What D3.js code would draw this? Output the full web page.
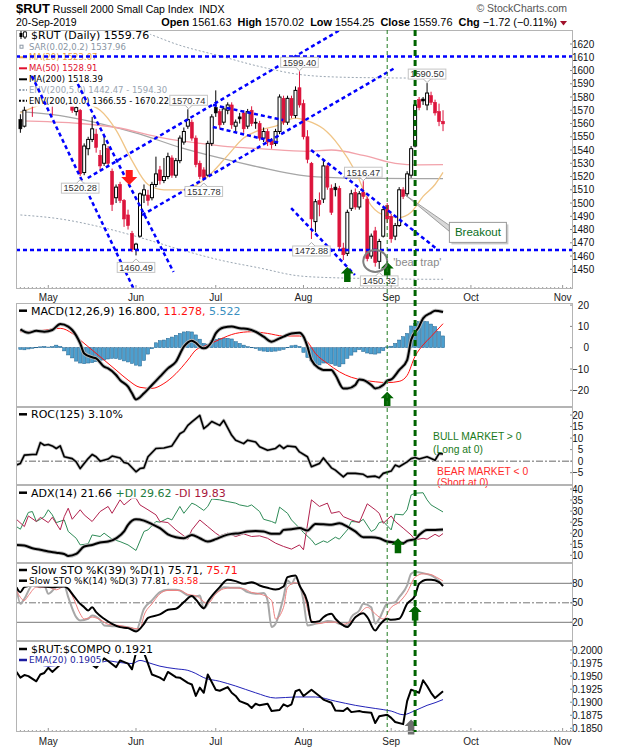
<!DOCTYPE html>
<html>
<head>
<meta charset="utf-8">
<script src="https://cdn.jsdelivr.net/npm/d3@7"></script>
<style>
html,body{margin:0;padding:0;background:#fff;}
svg{display:block;}
text{white-space:pre;}
</style>
</head>
<body>
<svg id="chart" width="620" height="750"></svg>
<script>
// ================= DATA =================
const holidays = ['2019-05-27','2019-07-04','2019-09-02'];

const opens = [1563,1558,1578,1580,1577,1588,1589,1592,1580,1585,
1582,1583,1578,1575,1569,1570,1523,1541,1548,1552,
1536,1530,1541,1524,1504,1514,1502,1491,1477,1465,
1475,1506,1506,1504,1514,1525,1517,1520,1534,1521,
1532,1546,1558,1561,1549,1530,1525,1521,1545,1572,
1569,1561,1570,1574,1558,1565,1568,1558,1570,1561,
1560,1549,1554,1547,1545,1554,1579,1561,1579,1566,
1587,1575,1550,1530,1486,1502,1503,1528,1511,1512,
1511,1466,1462,1496,1508,1497,1508,1503,1460,1479,
1456,1475,1498,1490,1475,1483,1510,1507,1521,1543,
1578,1578.5,1574,1581,1576,1569,1561.63];
const highs = [1567,1575,1586,1582,1590,1594,1593,1596,1585,1604,
1590,1586,1582,1577,1574,1571,1545,1550,1565,1556,
1540,1551,1543,1526,1514,1516,1503,1495,1479,1470,
1508,1514,1510,1516,1535,1528,1534,1538,1536,1534,
1551,1557,1570.74,1563,1551,1532,1527,1547,1567,1585,
1571,1573,1576,1576,1563,1568,1570,1571,1573,1564,
1562,1557,1556,1549,1556,1582,1581,1581,1581,1588,
1599.40,1578,1555,1531,1503,1508,1533,1530,1514,1515,
1513,1470,1495,1510,1511,1509,1516.47,1505,1477,1482,
1473,1497,1500,1492,1485,1512,1512,1524,1543,1575,
1580,1580,1590.50,1584,1578,1575,1570.02];
const lows = [1553,1557,1575,1565,1576,1584,1580,1578,1566,1584,
1578,1576,1575,1568,1566,1520.28,1521,1536,1546,1538,
1524,1528,1527,1494,1500,1500,1482,1480,1463,1460.49,
1474,1500,1498,1502,1512,1514,1515,1518,1519,1519,
1530,1544,1556,1547,1527,1518,1517.78,1520,1543,1565,
1556,1559,1567,1556,1553,1560,1553,1556,1558,1556,
1547,1546,1543,1541,1543,1552,1559,1559,1564,1564,
1572,1548,1530,1472.88,1478,1490,1500,1510,1491,1505,
1465,1457,1460,1494,1495,1495,1503,1456,1458,1452,
1450.32,1474,1485,1470,1472,1482,1503,1505,1519,1542,
1570,1574,1570,1574,1566,1558,1554.25];
const closes = [1556,1570,1582,1576,1588,1591,1591,1580,1577,1600,
1589,1578,1576,1570,1572,1522,1543,1548,1556,1542,
1528,1544,1530,1499,1512,1502,1488,1483,1465,1469,
1507,1510,1502,1514,1522,1517,1520,1535,1521,1532,
1549,1554,1563,1549,1529,1520,1519,1545,1565,1568,
1559,1571,1574,1559,1561,1563.5,1556,1569,1560,1560.5,
1549,1554,1546,1544,1554,1580,1561,1579,1566,1585,
1574,1550,1533,1488,1501,1499,1528,1512,1493,1510,
1467,1461,1493,1507,1497,1507,1505,1458,1475,1455,
1471,1495,1488,1473,1483,1510,1505,1522,1541,1574,
1572,1577,1583,1576,1568,1561.48,1559.76];

// overlays: [bar index, value]
const ma20Pts = [[0,1568],[5,1574],[10,1578],[15,1576],[20,1570],[24,1555],[28,1532],[32,1514],[36,1510],[41,1510],[47,1520],[52,1536],[56,1549],[60,1555],[64,1558],[69,1564],[72,1562],[76,1556],[80,1543],[84,1524],[88,1498],[92,1490],[95,1489],[98,1493],[101,1505],[104,1514],[106,1523.07]];
const ma50Pts = [[0,1562],[15,1560],[24,1557],[36,1549],[45,1545],[52,1542.5],[60,1541],[72,1539],[78,1540],[86,1536],[94,1530],[100,1528.8],[106,1528.91]];
const ma200Pts = [[0,1569],[10,1566],[20,1560],[30,1552],[40,1542],[50,1534],[60,1527],[70,1521],[80,1519],[90,1518.6],[100,1518.4],[106,1518.39]];
const envUpperPts = [[0,1647],[10,1644],[20,1638],[30,1630],[40,1619],[50,1611],[60,1603],[70,1597],[80,1595],[90,1594.5],[100,1594.3],[106,1594.30]];
const envLowerPts = [[0,1491],[10,1488],[20,1482],[30,1474],[40,1465],[50,1457],[60,1451],[70,1445],[80,1443.5],[90,1443],[100,1442.5],[106,1442.47]];

const macdPts = [[0,8.6],[2,7.0],[4,7.9],[6,7.5],[8,8.3],[10,11.1],[12,9.9],[13,8.3],[15,2.0],[16,-2.7],[18,-4.5],[19,-5.0],[21,-8.9],[22,-9.7],[24,-12.8],[25,-15.2],[27,-18.3],[28,-21.4],[29,-24.3],[31,-21.4],[33,-17.5],[35,-13.6],[37,-9.7],[39,-6.6],[41,0.5],[43,3.3],[44,2.3],[45,0.5],[46,-0.3],[48,2.8],[49,6.7],[51,9.5],[53,9.9],[55,9.1],[57,8.8],[59,7.5],[61,5.2],[63,2.8],[65,4.4],[66,5.2],[68,6.7],[70,7.0],[71,5.2],[72,0.5],[73,-5.8],[75,-9.7],[76,-10.5],[78,-10.5],[79,-12.8],[81,-19.1],[82,-19.1],[84,-17.5],[85,-14.9],[86,-15.2],[88,-17.5],[89,-19.1],[91,-17.5],[92,-15.5],[93,-14.9],[95,-10.5],[97,-5.8],[98,3.6],[100,9.9],[101,13.8],[103,16.4],[104,17.4],[106,16.8]];
const signalPts = [[0,7.5],[5,8.0],[10,9.1],[13,6.7],[15,3.6],[18,-1.1],[21,-5.8],[24,-10.5],[27,-15.2],[30,-18.6],[33,-19.1],[36,-16.8],[39,-12.2],[42,-5.8],[44,-1.1],[47,1.3],[50,3.9],[54,6.7],[58,7.5],[62,6.7],[66,5.5],[70,5.5],[72,2.8],[74,-2.7],[77,-7.4],[80,-11.3],[83,-13.9],[86,-15.2],[89,-16.0],[92,-16.4],[95,-15.8],[97,-13.0],[99,-4.0],[101,1.3],[103,5.2],[106,11.278]];
const histVals = [-0.8,-1.0,-0.6,-0.3,0.2,0.4,0.6,0.3,0.5,1.2,
0.6,-1.5,-3.4,-4.8,-6.3,-7.2,-7.5,-7.2,-7.0,-6.6,
-6.1,-5.8,-5.3,-5.0,-5.1,-5.5,-6.2,-6.7,-7.4,-8.2,
-8.6,-6.0,-3.0,-0.5,2.3,3.3,3.6,4.4,5.0,5.8,
6.7,7.4,7.5,7.4,6.0,4.0,2.0,1.7,3.5,3.9,
4.4,4.5,4.4,4.1,2.8,2.0,1.2,0.5,0.2,-0.4,
-1.2,-1.6,-1.9,-1.8,-1.6,-1.2,-0.8,0.2,0.9,1.2,
0.6,-2.2,-4.6,-6.2,-7.7,-8.1,-7.2,-7.2,-7.6,-8.3,
-8.9,-7.6,-5.0,-3.5,-2.0,-0.9,-1.8,-2.5,-2.9,-3.0,
-2.5,-1.4,0.4,0.7,2.0,3.6,5.2,6.7,10.2,11.4,
12.2,12.5,12.2,11.1,9.9,7.5,5.522];

const rocPts = [[-1,-1.7],[0,-1.0],[1,2.6],[3,2.9],[4,2.9],[5,8.0],[6,6.9],[7,7.2],[8,6.6],[9,5.5],[10,6.6],[11,1.9],[13,1.1],[14,-0.3],[15,-3.2],[17,1.1],[18,2.9],[19,1.9],[20,0],[22,0.9],[23,2.2],[25,1.4],[26,-0.6],[27,-1.0],[29,-4.6],[30,-3.2],[31,-2.9],[32,1.9],[34,5.5],[36,5.7],[38,6.6],[40,11.9],[41,12.9],[42,15.5],[43,17.0],[45,19.8],[46,14.1],[47,15.5],[48,17.2],[50,15.5],[51,17.7],[53,11.2],[54,9.1],[56,7.6],[57,9.1],[59,8.3],[60,6.2],[62,4.7],[64,5.5],[65,6.9],[66,5.5],[67,6.6],[69,6.2],[70,4.0],[72,1.9],[73,-2.4],[75,-1.0],[76,1.4],[78,-2.9],[79,-3.9],[81,-6.8],[82,-5.3],[84,-5.3],[86,-5.7],[87,-6.8],[89,-6.5],[90,-7.2],[91,-5.3],[93,-4.3],[94,-1.7],[95,-2.4],[97,-0.3],[98,1.1],[99,1.6],[100,0.9],[102,1.9],[104,0.4],[105,3.3],[106,3.10]];

const adxPts = [[-1,14.7],[1,14.4],[3,13.2],[5,12.5],[7,11.7],[9,11.2],[11,10.6],[12,9.7],[14,10.6],[16,14.0],[18,14.7],[20,15.8],[22,16.2],[24,17.7],[26,20.8],[27,23.8],[29,26.3],[31,25.7],[33,24.1],[35,22.3],[37,19.5],[39,18.2],[41,17.7],[43,19.2],[45,17.7],[47,16.2],[49,17.3],[51,18.8],[53,19.7],[55,20.0],[57,20.8],[59,21.0],[61,20.8],[63,19.7],[65,19.7],[66,21.5],[68,21.8],[70,22.3],[72,21.2],[74,24.2],[76,24.0],[78,23.8],[80,24.5],[82,23.0],[84,20.8],[86,18.2],[88,18.2],[90,17.7],[92,16.2],[94,15.8],[96,15.5],[97,16.5],[99,17.3],[100,19.2],[102,21.5],[104,21.5],[106,21.66]];
const plusDiPts = [[-1,23.0],[0,21.8],[2,29.4],[3,29.8],[4,25.3],[5,26.3],[6,27.5],[7,30.6],[8,28.3],[9,24.8],[11,26.0],[12,20.8],[14,17.7],[15,14.7],[17,15.2],[18,19.2],[20,18.5],[21,20.0],[23,17.3],[25,16.2],[27,14.7],[29,12.2],[31,20.8],[32,21.5],[34,25.3],[35,25.0],[37,26.8],[38,26.0],[40,32.1],[41,29.0],[43,33.6],[44,32.8],[46,30.3],[47,32.1],[48,35.5],[50,35.1],[52,34.3],[54,33.6],[55,32.8],[57,32.1],[58,32.8],[60,29.8],[61,26.3],[63,25.3],[64,24.5],[65,31.8],[67,29.0],[68,26.0],[70,22.3],[71,20.3],[73,17.0],[74,14.7],[76,16.5],[77,15.8],[79,18.2],[80,17.3],[82,21.5],[83,25.3],[85,25.0],[86,26.3],[88,20.8],[89,21.8],[90,24.8],[91,25.3],[93,21.5],[94,28.6],[96,28.3],[97,30.6],[98,37.3],[99,38.1],[101,38.3],[102,35.1],[103,32.8],[106,29.62]];
const minusDiPts = [[-1,26.3],[1,23.0],[2,27.8],[4,25.3],[5,27.2],[7,24.8],[8,27.2],[10,21.5],[11,27.5],[12,31.3],[13,26.3],[15,30.6],[16,28.3],[18,25.3],[20,29.8],[22,32.1],[23,29.0],[25,35.1],[26,32.8],[28,35.8],[29,35.8],[30,32.8],[32,30.6],[34,28.3],[35,25.3],[37,24.8],[39,21.5],[41,18.8],[42,17.3],[43,21.5],[45,26.0],[47,23.0],[49,20.0],[50,18.8],[52,20.0],[54,18.5],[56,19.7],[58,18.5],[60,18.8],[62,17.7],[64,15.5],[66,14.0],[68,12.8],[70,14.7],[71,12.5],[73,35.1],[75,32.1],[77,33.6],[78,29.0],[80,29.8],[81,27.5],[83,26.0],[85,24.8],[87,33.3],[89,30.6],[90,29.0],[91,24.5],[93,27.8],[94,25.3],[96,22.3],[98,19.2],[99,17.0],[101,17.7],[102,17.3],[104,19.5],[105,18.5],[106,19.83]];

const sto39Pts = [[-1,74.1],[0,66.4],[1,74.1],[3,76.7],[5,75.5],[8,74.1],[11,75.0],[12,71.5],[13,63.8],[15,48.5],[16,43.3],[17,38.2],[18,43.3],[19,35.6],[21,25.4],[23,17.7],[25,12.6],[27,11.0],[29,5.9],[31,17.7],[32,26.9],[35,32.1],[37,39.2],[39,40.8],[41,51.0],[43,60.3],[44,55.0],[46,41.8],[47,52.0],[50,74.1],[52,85.4],[54,83.3],[56,79.2],[58,81.8],[60,76.7],[62,73.1],[64,70.5],[66,75.1],[67,89.5],[69,92.1],[70,76.7],[72,51.0],[73,20.3],[75,21.8],[76,27.9],[78,33.1],[79,25.4],[81,15.1],[82,12.6],[84,27.9],[86,34.1],[87,27.9],[89,7.4],[90,15.1],[92,25.4],[93,23.8],[95,25.4],[97,48.5],[99,61.3],[100,79.2],[102,85.4],[103,85.4],[105,81.8],[106,75.71]];
const sto14KPts = [[-1,74.1],[0,48.5],[1,56.2],[3,76.7],[5,74.1],[6,76.7],[7,63.8],[9,74.1],[11,76.7],[12,58.7],[14,28.0],[15,22.8],[17,25.4],[18,30.5],[20,23.8],[21,15.1],[23,14.1],[25,13.6],[28,11.0],[29,7.4],[31,40.8],[33,53.6],[35,66.4],[37,70.0],[39,70.0],[40,69.0],[42,61.3],[44,59.7],[45,61.3],[46,40.8],[48,58.7],[50,70.0],[51,74.1],[53,73.1],[55,73.1],[57,66.4],[59,63.8],[61,64.9],[62,53.6],[63,12.6],[64,17.7],[66,58.7],[67,84.4],[68,79.2],[69,88.5],[71,53.6],[72,15.1],[74,17.7],[76,20.3],[77,22.0],[79,20.3],[80,17.7],[82,15.1],[83,27.9],[85,38.2],[86,48.5],[88,43.3],[89,17.7],[90,25.4],[92,48.5],[94,51.0],[95,58.7],[97,76.7],[98,94.6],[99,97.2],[101,95.6],[103,92.1],[104,88.5],[106,77.81]];
const sto14DPts = [[-1,69],[1,53.6],[2,61],[4,74],[7,74],[9,70],[11,75],[13,61],[15,33],[16,25],[18,28],[20,24],[22,17],[25,15],[28,11],[30,10],[31,30.5],[33,48.5],[35,63.8],[37,69],[40,69],[42,63],[44,61],[47,49],[49,63.8],[51,71.5],[53,73],[56,71.5],[58,66],[60,63.8],[63,53.6],[64,25],[66,43],[67,74],[69,81],[71,63.8],[73,23],[75,18],[77,20.3],[79,20.3],[81,17],[83,22],[85,33],[87,43],[89,33],[91,25],[93,43],[95,51],[97,66],[99,89.5],[101,94.6],[103,93.5],[104,90.5],[106,83.58]];

const ratioPts = [[-1,0.1958],[0,0.1947],[1,0.1952],[2,0.1950],[4,0.1940],[5,0.1953],[6,0.1956],[7,0.1966],[8,0.1958],[10,0.1972],[11,0.1976],[13,0.1978],[15,0.1977],[18,0.1972],[19,0.1966],[21,0.1984],[22,0.1979],[24,0.1967],[25,0.1980],[27,0.1974],[28,0.1963],[29,0.1995],[30,0.2005],[31,0.1995],[33,0.1953],[35,0.1947],[36,0.1942],[37,0.1958],[39,0.1948],[40,0.1947],[42,0.1937],[43,0.1934],[44,0.1912],[45,0.1928],[46,0.1918],[47,0.1953],[49,0.1924],[50,0.1922],[52,0.1929],[53,0.1918],[54,0.1912],[55,0.1902],[57,0.1896],[58,0.1889],[59,0.1897],[60,0.1894],[62,0.1897],[63,0.1883],[65,0.1885],[66,0.1896],[67,0.1892],[68,0.1896],[69,0.1921],[70,0.1924],[71,0.1912],[73,0.1924],[75,0.1912],[76,0.1905],[78,0.1899],[79,0.1884],[81,0.1883],[82,0.1889],[83,0.1881],[85,0.1883],[86,0.1881],[88,0.1880],[89,0.1860],[90,0.1873],[92,0.1876],[93,0.1870],[94,0.1862],[96,0.1858],[97,0.1902],[98,0.1924],[100,0.1918],[101,0.1942],[102,0.1931],[103,0.1918],[104,0.1908],[106,0.1921]];
const emaPts = [[4,0.1972],[5,0.1971],[7,0.1969],[10,0.1971],[12,0.1972],[16,0.1974],[20,0.1976],[22,0.1979],[25,0.1976],[28,0.1974],[30,0.1980],[32,0.1976],[35,0.1969],[39,0.1964],[42,0.1961],[44,0.1955],[46,0.1947],[50,0.1940],[54,0.1931],[59,0.1918],[64,0.1908],[69,0.1910],[74,0.1910],[79,0.1902],[84,0.1894],[89,0.1888],[93,0.1883],[96,0.1876],[99,0.1884],[102,0.1894],[104,0.1899],[106,0.1905]];

// tick values
const mainTicks = d3.range(1450, 1621, 10);
const macdTicks = [20,10,0,-10,-20];
const rocTicks = [20,15,10,5,0,-5];
const adxTicks = [40,35,30,25,20,15,10];
const stoTicks = [80,50,20];
const ratioTicks = [0.2000,0.1975,0.1950,0.1925,0.1900,0.1875,0.1850];

// annotations (bar index, price)
const trendLines = [
  [[2.9,1595.9],[28.3,1436]],
  [[14.4,1589.8],[38.4,1448]],
  [[16.9,1518.9],[80.2,1630.6]],
  [[30.5,1490.9],[93.9,1601.9]],
  [[48.3,1574.0],[65.9,1562.6]],
  [[48.3,1557.4],[65.1,1545.3]],
  [[72.9,1540.0],[104.5,1465.3]],
  [[67.9,1496.2],[83.9,1445.7]]
];
const levelLines = [1610.5, 1464.5];
const priceLabels = [
  {i:70,v:1599.40,pos:'above'},{i:42.2,v:1570.74,pos:'above'},{i:15,v:1520.28,pos:'below'},
  {i:29,v:1460.49,pos:'below'},{i:46,v:1517.78,pos:'below'},{i:86,v:1516.47,pos:'above'},
  {i:73,v:1472.88,pos:'below'},{i:90,v:1450.32,pos:'below'},{i:102,v:1590.50,pos:'above'}
];
const markerThin = 92, markerThick = 99;

// ================= LAYOUT =================
const AX = "'Liberation Sans', Arial, sans-serif";
const LG = "'DejaVu Sans', Verdana, sans-serif";
const RED = '#dc143c';
const L = 16, R = 573;
const svg = d3.select('#chart');
svg.append('rect').attr('width',620).attr('height',750).attr('fill','#fff');
const defs = svg.append('defs');

const fmtISO = d3.timeFormat('%Y-%m-%d');
const days = d3.timeDay.range(new Date(2019,3,22), new Date(2019,10,9))
  .filter(d => d.getDay()!==0 && d.getDay()!==6 && !holidays.includes(fmtISO(d)));

const x = d3.scaleLinear().domain([-1.1, 138.6]).range([L, R]);

const P = {
  main:{top:30,bottom:289}, macd:{top:303,bottom:407}, roc:{top:407,bottom:485},
  adx:{top:485,bottom:563}, sto:{top:563,bottom:641}, ratio:{top:641,bottom:732}
};
Object.entries(P).forEach(([k,p]) => {
  defs.append('clipPath').attr('id','clip-'+k).append('rect')
    .attr('x',L).attr('y',p.top).attr('width',R-L).attr('height',p.bottom-p.top);
});

const yMain = d3.scaleLinear().domain([1450,1620]).range([269.3,44]);
const yMacd = d3.scaleLinear().domain([-20,20]).range([390.3,305.1]);
const yRoc = d3.scaleLinear().domain([-5,20]).range([472.7,415]);
const yAdx = d3.scaleLinear().domain([10,40]).range([555.3,489]);
const ySto = d3.scaleLinear().domain([20,80]).range([622.3,583.3]);
const yRatio = d3.scaleLinear().domain([0.185,0.200]).range([728.3,650]);

function lineGen(ys, curve){ return d3.line().x(d=>x(d[0])).y(d=>ys(d[1])).curve(curve||d3.curveLinear); }
function drawLine(g, pts, ys, color, w, curve, dash, op){
  const p = g.append('path').datum(pts).attr('fill','none').attr('stroke',color)
    .attr('stroke-width',w).attr('stroke-linejoin','round').attr('d', lineGen(ys,curve)(pts));
  if(dash) p.attr('stroke-dasharray',dash);
  if(op!=null) p.attr('stroke-opacity',op);
  return p;
}
function clipG(k){ return svg.append('g').attr('clip-path','url(#clip-'+k+')'); }

function legendRow(yc, parts, size, icon){
  const g = svg.append('g');
  const bg = g.append('rect').attr('fill','#fff');
  const tx = size >= 10 ? 31 : 29;
  const t = g.append('text').attr('x',tx).attr('y', yc + size*0.36)
    .attr('font-family',LG).attr('font-size',size);
  parts.forEach(p => t.append('tspan').attr('fill',p[1]).text(p[0]));
  const bb = t.node().getBBox();
  bg.attr('x',17).attr('y',yc-6).attr('width', bb.x+bb.width-17+1).attr('height',12);
  if(icon) icon(g, yc);
  return g;
}
const iconLine = (color,w,dash) => (g,yc) => {
  const l = g.append('line').attr('x1',19).attr('x2',27).attr('y1',yc).attr('y2',yc)
    .attr('stroke',color).attr('stroke-width',w);
  if(dash) l.attr('stroke-dasharray',dash);
};

function yAxis(ys, ticks, fmt){
  const g = svg.append('g').attr('font-family',AX).attr('font-size',10).attr('fill','#111');
  const texts = [];
  ticks.forEach(v => {
    g.append('line').attr('x1',R-3).attr('x2',R).attr('y1',ys(v)).attr('y2',ys(v)).attr('stroke','#888');
    texts.push(g.append('text').attr('y', ys(v)+3.5).text(fmt(v)));
  });
  const maxW = d3.max(texts, t => t.node().getComputedTextLength());
  texts.forEach(t => t.attr('x', R-1+maxW).attr('text-anchor','end'));
}

function frame(p){
  svg.append('rect').attr('x',L+0.5).attr('y',p.top+0.5).attr('width',R-L-1).attr('height',p.bottom-p.top-1)
    .attr('fill','none').attr('stroke','#b4b4b4');
}

function upArrow(g, cx, tipY, color){
  const w=13, hh=6.5, sw=6.5, len=15;
  g.append('path').attr('fill',color)
    .attr('d',`M${cx},${tipY} L${cx+w/2},${tipY+hh} L${cx+sw/2},${tipY+hh} L${cx+sw/2},${tipY+len} L${cx-sw/2},${tipY+len} L${cx-sw/2},${tipY+hh} L${cx-w/2},${tipY+hh} Z`);
}

// month positions
const monthIdx = [];
days.forEach((d,i) => { if(i>0 && d.getMonth()!==days[i-1].getMonth()) monthIdx.push(i); });
const fmtMon = d3.timeFormat('%b');

function dayTicks(bottom){
  const g = svg.append('g').attr('stroke','#999');
  days.forEach((d,i) => {
    if(x(i) <= L || x(i) >= R) return;
    const isM = monthIdx.includes(i);
    g.append('line').attr('x1',x(i)).attr('x2',x(i)).attr('y1',bottom-(isM?4:2)).attr('y2',bottom);
  });
}
function monthLabels(yBase){
  monthIdx.forEach(i => {
    if(x(i) > R) return;
    svg.append('text').attr('x',x(i)).attr('y',yBase).attr('text-anchor','middle')
      .attr('font-family',AX).attr('font-size',10).attr('fill','#222').text(fmtMon(days[i]));
  });
}

// ================= HEADER =================
const f2 = d3.format('.2f');
const n = closes.length - 1;
const title = svg.append('text').attr('x',16).attr('y',13).attr('font-family',AX).attr('fill','#000');
title.append('tspan').attr('font-weight','bold').attr('font-size',13).text('$RUT');
title.append('tspan').attr('font-size',10.5).text(' Russell 2000 Small Cap Index');
title.append('tspan').attr('font-size',10.5).text('  INDX');
svg.append('text').attr('x',16).attr('y',26).attr('font-family',AX).attr('font-size',10.5).text(d3.timeFormat('%d-%b-%Y')(days[n]));
svg.append('text').attr('x',567).attr('y',12).attr('text-anchor','end').attr('font-family',AX)
  .attr('font-size',10.5).attr('fill','#555').text('\u00A9 StockCharts.com');
const chg = closes[n]-closes[n-1];
const info = svg.append('text').attr('x',557).attr('y',26).attr('text-anchor','end').attr('font-family',AX).attr('font-size',10.9).attr('fill','#000');
[['Open',1],[' '+f2(opens[n])+'  ',0],['High',1],[' '+f2(highs[n])+'  ',0],['Low',1],[' '+f2(lows[n])+'  ',0],
 ['Close',1],[' '+f2(closes[n])+'  ',0],['Chg',1],[' '+f2(chg)+' ('+f2(chg/closes[n-1]*100)+'%)',0]]
 .forEach(p => info.append('tspan').attr('font-weight',p[1]?'bold':'normal').text(p[0]));
svg.append('path').attr('d','M560,21 L567,21 L563.5,25.5 Z').attr('fill','#a0102a');

// ================= MAIN PANEL =================
const gm = clipG('main');
drawLine(gm, envUpperPts, yMain, '#9aa6b2', 1, d3.curveMonotoneX, '2,2');
drawLine(gm, envLowerPts, yMain, '#9aa6b2', 1, d3.curveMonotoneX, '2,2');
drawLine(gm, ma200Pts, yMain, '#a6a6a6', 1.3, d3.curveMonotoneX);
drawLine(gm, ma50Pts, yMain, '#f2a2aa', 1.3, d3.curveMonotoneX);
drawLine(gm, ma20Pts, yMain, '#f0c587', 1.3, d3.curveMonotoneX);

const candles = closes.map((c,i) => ({i, o:opens[i], h:highs[i], l:lows[i], c}));
const cg = gm.append('g');
candles.forEach(d => {
  const col = (d.i>0 && d.c < closes[d.i-1]) ? RED : '#000';
  const hollow = d.c > d.o;
  const cx = x(d.i);
  cg.append('line').attr('x1',cx).attr('x2',cx).attr('y1',yMain(d.h)).attr('y2',yMain(d.l)).attr('stroke',col).attr('stroke-width',1);
  const y0 = yMain(Math.max(d.o,d.c)), y1 = yMain(Math.min(d.o,d.c));
  cg.append('rect').attr('x',cx-1.5).attr('y',y0).attr('width',3).attr('height',Math.max(1,y1-y0))
    .attr('fill', hollow ? '#fff' : col).attr('stroke',col).attr('stroke-width', hollow?1:0.6);
});

// main legend
legendRow(35, [['$RUT (Daily) 1559.76','#000']], 11, (g,yc)=>{
  g.append('line').attr('x1',21).attr('x2',21).attr('y1',yc-4).attr('y2',yc+4).attr('stroke','#000');
  g.append('rect').attr('x',19.5).attr('y',yc-2).attr('width',3).attr('height',4).attr('fill','#000');
  g.append('line').attr('x1',25).attr('x2',25).attr('y1',yc-4).attr('y2',yc+4).attr('stroke','#000');
  g.append('rect').attr('x',23.5).attr('y',yc-3).attr('width',3).attr('height',5).attr('fill','#fff').attr('stroke','#000').attr('stroke-width',0.8);
});
legendRow(46.7, [['SAR(0.02,0.2) 1537.96','#8a96a4']], 8.5, (g,yc)=>{
  g.append('rect').attr('x',20).attr('y',yc-1.5).attr('width',3).attr('height',3).attr('fill','none').attr('stroke','#8a96a4');
});
legendRow(57.3, [['MA(20) 1523.07','#e8a040']], 8.5, iconLine('#e8a040',2));
legendRow(68.3, [['MA(50) 1528.91','#e0102e']], 8.5, iconLine('#e0102e',2));
legendRow(79.3, [['MA(200) 1518.39','#000']], 8.5, iconLine('#000',2));
legendRow(90, [['ENV(200,5.0) 1442.47 - 1594.30','#9aa6b2']], 8.5, iconLine('#9aa6b2',2,'2,1.5'));
legendRow(100.7, [['ENV(200,10.0) 1366.55 - 1670.22','#000']], 8.3, iconLine('#000',2,'2,1.5'));

// annotations
const ga = clipG('main');
levelLines.forEach(v => ga.append('line').attr('x1',L).attr('x2',R).attr('y1',yMain(v)).attr('y2',yMain(v))
  .attr('stroke','#0000ff').attr('stroke-width',2.5).attr('stroke-dasharray','4,3'));
trendLines.forEach(seg => ga.append('line')
  .attr('x1',x(seg[0][0])).attr('y1',yMain(seg[0][1])).attr('x2',x(seg[1][0])).attr('y2',yMain(seg[1][1]))
  .attr('stroke','#0000ff').attr('stroke-width',2.5).attr('stroke-dasharray','4,3'));

// red down arrow
(function(){
  const cx = x(27.3), tip = yMain(1513.6);
  ga.append('path').attr('fill','#ff1a1a')
    .attr('d',`M${cx},${tip} L${cx+8},${tip-8} L${cx+3.5},${tip-8} L${cx+3.5},${tip-15} L${cx-3.5},${tip-15} L${cx-3.5},${tip-8} L${cx-8},${tip-8} Z`);
})();
upArrow(ga, x(82), yMain(1451.7), '#006400');
upArrow(ga, x(92), yMain(1455.5), '#006400');

// bear trap circle + text
ga.append('ellipse').attr('cx',x(89)).attr('cy',yMain(1456.3)).attr('rx',12).attr('ry',11)
  .attr('fill','none').attr('stroke','#808080').attr('stroke-width',2);
ga.append('text').attr('x',x(93.5)).attr('y',yMain(1452.6)).attr('font-family',AX).attr('font-size',11)
  .attr('fill','#8a8a8a').text("'bear trap'");

// price labels
priceLabels.forEach(d => {
  const g = ga.append('g');
  const cx = x(d.i), py = yMain(d.v);
  const t = g.append('text').attr('font-family',AX).attr('font-size',9.3).attr('fill','#333')
    .attr('text-anchor','middle').text(f2(d.v));
  const w = t.node().getComputedTextLength() + 4, bh = 10;
  const top = d.pos==='above' ? py - 4 - bh : py + 7;
  g.insert('rect','text').attr('x',cx-w/2).attr('y',top).attr('width',w).attr('height',bh)
    .attr('fill','#fff').attr('stroke','#c4c4c4');
  t.attr('x',cx).attr('y',top+8.3);
  const pd = d.pos==='above'
    ? `M${cx-3.5},${top+bh} L${cx},${top+bh+3.5} L${cx+3.5},${top+bh}`
    : `M${cx-3.5},${top} L${cx},${top-3.5} L${cx+3.5},${top}`;
  g.append('path').attr('d',pd).attr('fill','#fff').attr('stroke','#b0b0b0');
});

// Breakout callout
(function(){
  const tx = x(96.5), ty = yMain(1506.1);
  const bx = x(107.6), by = yMain(1485.4), bw = 57, bh = 20;
  ga.append('path').attr('d',`M${tx},${ty} L${bx},${by+3} L${bx},${by+9} Z`).attr('fill','#d8d8d8').attr('stroke','#8c8c8c').attr('stroke-width',0.8);
  svg.append('rect').attr('x',bx+2).attr('y',by+2).attr('width',bw).attr('height',bh).attr('fill','#c8c8c8');
  svg.append('rect').attr('x',bx).attr('y',by).attr('width',bw).attr('height',bh).attr('fill','#fff').attr('stroke','#9a9a9a');
  svg.append('text').attr('x',bx+bw/2).attr('y',by+14).attr('text-anchor','middle').attr('font-family',AX)
    .attr('font-size',11.5).attr('fill','#0a6e1e').text('Breakout');
})();

yAxis(yMain, mainTicks, d3.format('d'));
dayTicks(P.main.bottom);
frame(P.main);
monthLabels(300.5);

// ================= MACD =================
const gmacd = clipG('macd');
histVals.forEach((v,i) => {
  const y0 = yMacd(0), y1 = yMacd(v);
  gmacd.append('rect').attr('x',x(i)-1.6).attr('y',Math.min(y0,y1)).attr('width',3.2).attr('height',Math.max(0.5,Math.abs(y1-y0)))
    .attr('fill','#4b9fcf').attr('stroke','#23628e').attr('stroke-width',0.5);
});
drawLine(gmacd, signalPts, yMacd, '#ff1010', 1, d3.curveMonotoneX);
drawLine(gmacd, macdPts, yMacd, '#b8b8b8', 3.8, d3.curveMonotoneX);
drawLine(gmacd, macdPts, yMacd, '#000', 2, d3.curveMonotoneX);
legendRow(310.7, [['MACD(12,26,9) 16.800,','#000'],[' 11.278,','#ff1010'],[' 5.522','#3a8fc0']], 11, iconLine('#000',2.5));
upArrow(gmacd, x(92), yMacd(-20.7), '#006400');
yAxis(yMacd, macdTicks, d3.format('d'));
frame(P.macd);

// ================= ROC =================
const groc = clipG('roc');
groc.append('line').attr('x1',L).attr('x2',R).attr('y1',yRoc(0)).attr('y2',yRoc(0))
  .attr('stroke','#666').attr('stroke-dasharray','7,2,2,2');
drawLine(groc, rocPts, yRoc, '#c0c0c0', 3.2);
drawLine(groc, rocPts, yRoc, '#000', 1.6);
legendRow(414.3, [['ROC(125) 3.10%','#000']], 11, iconLine('#000',2.5));
yAxis(yRoc, rocTicks, d3.format('d'));
frame(P.roc);
svg.append('text').attr('x',x(103.5)).attr('y',yRoc(9.05)).attr('font-family',AX).attr('font-size',10.3).attr('fill','#1a7a1a').text('BULL MARKET > 0');
svg.append('text').attr('x',x(103.5)).attr('y',yRoc(3.66)).attr('font-family',AX).attr('font-size',10.3).attr('fill','#1a7a1a').text('(Long at 0)');
svg.append('text').attr('x',x(104.5)).attr('y',yRoc(-5.8)).attr('font-family',AX).attr('font-size',10.3).attr('fill','#ff2a2a').text('BEAR MARKET < 0');
svg.append('text').attr('x',x(104.5)).attr('y',yRoc(-10.6)).attr('font-family',AX).attr('font-size',10.3).attr('fill','#ff2a2a').text('(Short at 0)');

// ================= ADX =================
const gadx = clipG('adx');
drawLine(gadx, plusDiPts, yAdx, '#2e8b57', 1);
drawLine(gadx, minusDiPts, yAdx, '#b2224e', 1);
drawLine(gadx, adxPts, yAdx, '#bcbcbc', 3.8, d3.curveMonotoneX);
drawLine(gadx, adxPts, yAdx, '#000', 2, d3.curveMonotoneX);
legendRow(492.7, [['ADX(14) 21.66','#000'],[' +DI 29.62','#1e7b3c'],[' -DI 19.83','#a8173c']], 11, iconLine('#000',2.5));
upArrow(gadx, x(94.7), yAdx(17.7), '#006400');
yAxis(yAdx, adxTicks, d3.format('d'));
frame(P.adx);

// ================= STO =================
const gsto = clipG('sto');
[80,20].forEach(v => gsto.append('line').attr('x1',L).attr('x2',R).attr('y1',ySto(v)).attr('y2',ySto(v)).attr('stroke','#777'));
gsto.append('line').attr('x1',L).attr('x2',R).attr('y1',ySto(50)).attr('y2',ySto(50)).attr('stroke','#777').attr('stroke-dasharray','7,2,2,2');
drawLine(gsto, sto14KPts, ySto, '#a8a8a8', 2, d3.curveMonotoneX);
drawLine(gsto, sto14DPts, ySto, '#f08080', 1, d3.curveMonotoneX);
drawLine(gsto, sto39Pts, ySto, '#000', 2, d3.curveMonotoneX);
legendRow(570, [['Slow STO %K(39) %D(1) 75.71,','#000'],[' 75.71','#ff1010']], 11, iconLine('#000',2.5));
legendRow(580.7, [['Slow STO %K(14) %D(3) 77.81,','#000'],[' 83.58','#ff1010']], 9, iconLine('#000',2.5));
upArrow(gsto, x(99), ySto(45.8), '#006400');
yAxis(ySto, stoTicks, d3.format('d'));
frame(P.sto);

// ================= RATIO =================
const grat = clipG('ratio');
drawLine(grat, emaPts, yRatio, '#2222b8', 1, d3.curveMonotoneX);
drawLine(grat, ratioPts, yRatio, '#000', 2);
legendRow(649, [['$RUT:$COMPQ 0.1921','#000']], 11, iconLine('#000',2.5));
legendRow(660, [['EMA(20) 0.1905','#1c1ca0']], 9, iconLine('#1c1ca0',2.5));
upArrow(svg.append('g'), x(98), yRatio(0.18667), '#707070');
yAxis(yRatio, ratioTicks, d3.format('.4f'));
dayTicks(P.ratio.bottom);
frame(P.ratio);
monthLabels(745);

// ================= VERTICAL MARKERS =================
svg.append('line').attr('x1',x(markerThin)).attr('x2',x(markerThin)).attr('y1',P.main.top).attr('y2',P.ratio.bottom)
  .attr('stroke','#1f7a1f').attr('stroke-width',1).attr('stroke-dasharray','4,3');
svg.append('line').attr('x1',x(markerThick)).attr('x2',x(markerThick)).attr('y1',P.main.top).attr('y2',P.ratio.bottom)
  .attr('stroke','#006400').attr('stroke-width',3).attr('stroke-dasharray','6,4');
</script>
</body>
</html>
